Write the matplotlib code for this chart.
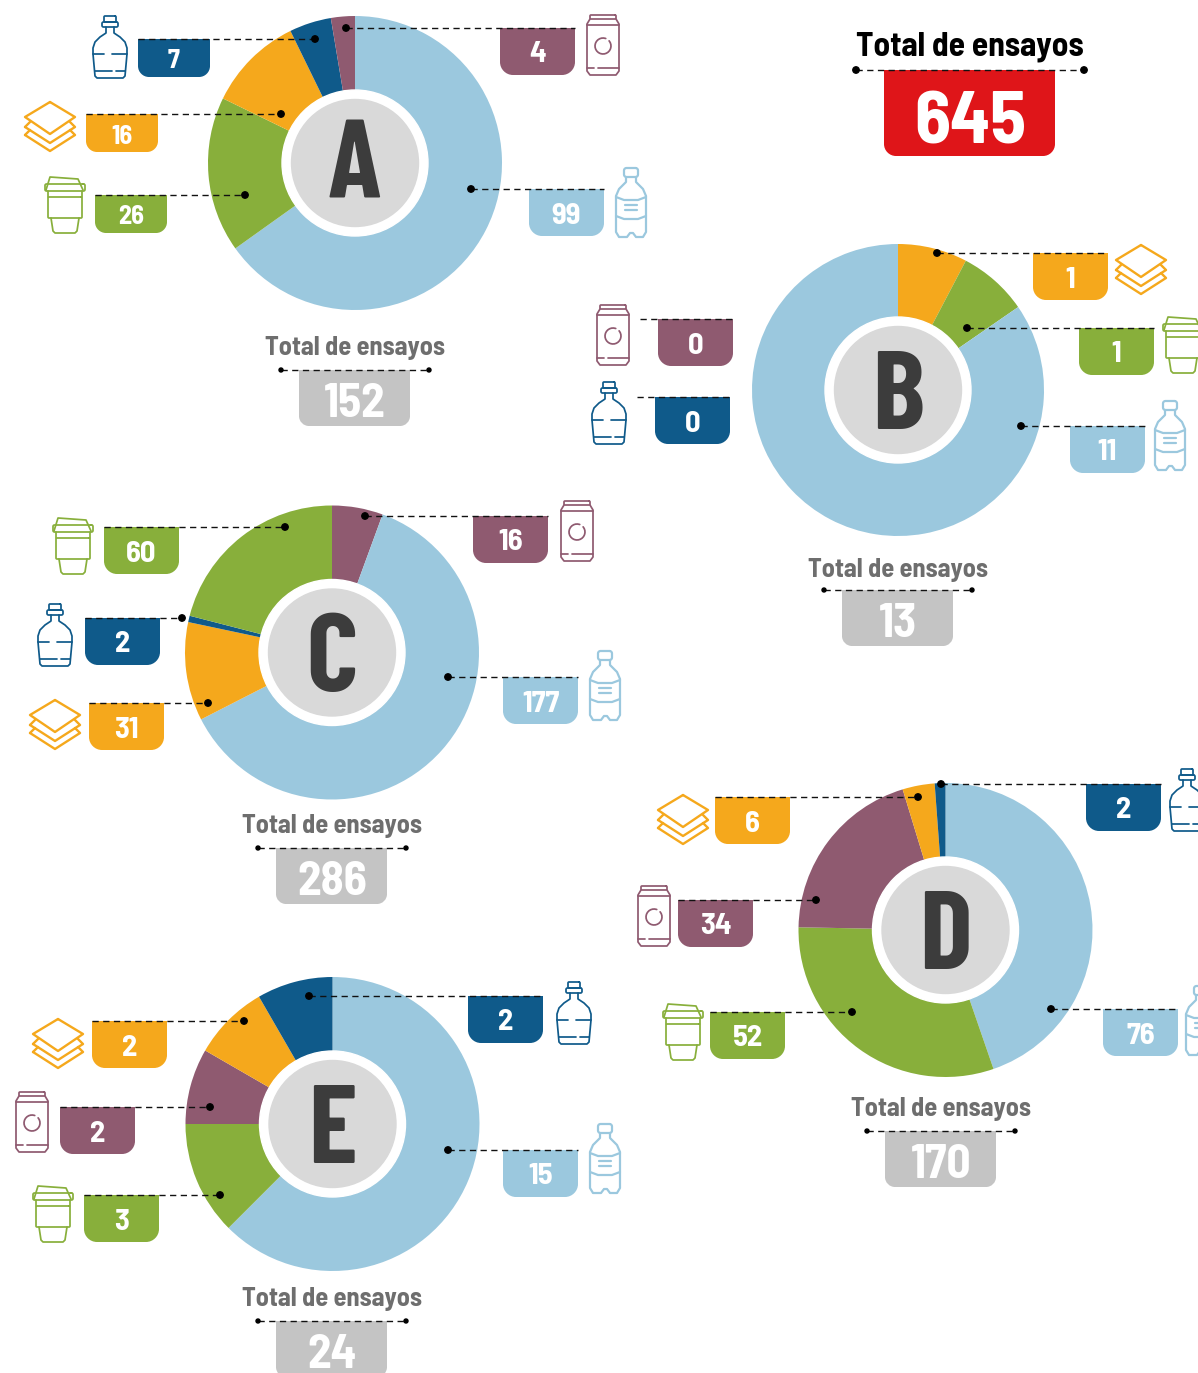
import math
import matplotlib
matplotlib.use('Agg')
import matplotlib.pyplot as plt
from matplotlib.patches import Circle, PathPatch
from matplotlib.path import Path

W, H = 1198, 1373

BLUE = '#9bc8de'
GREEN = '#88af3b'
ORANGE = '#f5a81c'
NAVY = '#0f5a8a'
PURPLE = '#8f5a70'
COLORS = {'bottle': BLUE, 'cup': GREEN, 'layers': ORANGE, 'jug': NAVY, 'can': PURPLE}

TITLE = 'Total de ensayos'
GRAND_TOTAL = 645

# values, clockwise from the top of each donut
kinds_a = ['bottle', 'cup', 'layers', 'jug', 'can']
values_a = [99, 26, 16, 7, 4]
kinds_b = ['layers', 'cup', 'bottle']
values_b = [1, 1, 11]
kinds_c = ['can', 'bottle', 'layers', 'jug', 'cup']
values_c = [16, 177, 31, 2, 60]
kinds_d = ['bottle', 'cup', 'can', 'layers', 'jug']
values_d = [76, 52, 34, 6, 2]
kinds_e = ['bottle', 'cup', 'can', 'layers', 'jug']
values_e = [15, 3, 2, 2, 2]
extra_b = {'can': 0, 'jug': 0}  # zero, so no slice
totals = {'A': 152, 'B': 13, 'C': 286, 'D': 170, 'E': 24}

# layout in pixels: kind -> tab x, tab y, line x0, line x1, dot x (None = no dot), icon x, icon y
layout_a = {
    'jug': (138, 39, 138, 315, 315, 92, 16),
    'layers': (86, 114, 86, 281, 281, 25, 101),
    'cup': (95, 195, 95, 245, 245, 45, 176),
    'can': (500, 28, 346, 575, 346, 587, 15),
    'bottle': (529, 189, 471, 604, 471, 616, 168),
}
layout_b = {
    'layers': (1033, 253, 937, 1108, 937, 1116, 244),
    'cup': (1079, 328, 967, 1154, 967, 1163, 316),
    'bottle': (1070, 426, 1021, 1145, 1021, 1155, 401),
    'can': (658, 319, 640, 733, None, 597, 305),
    'jug': (655, 397, 637, 730, None, 591, 382),
}
layout_c = {
    'cup': (104, 527, 104, 285, 285, 53, 517),
    'jug': (85, 618, 85, 182, 182, 37, 604),
    'layers': (89, 703, 89, 208, 208, 30, 699),
    'can': (473, 516, 365, 548, 365, 561, 501),
    'bottle': (503, 677, 448, 578, 448, 590, 651),
}
layout_d = {
    'layers': (715, 797, 715, 918, 918, 658, 794),
    'can': (678, 900, 678, 816, 816, 638, 886),
    'cup': (710, 1012, 710, 852, 852, 663, 1003),
    'jug': (1086, 784, 941, 1161, 941, 1169, 769),
    'bottle': (1103, 1009, 1051, 1178, 1051, 1186, 986),
}
layout_e = {
    'layers': (92, 1021, 92, 244, 244, 33, 1018),
    'can': (60, 1107, 60, 210, 210, 16, 1092),
    'cup': (84, 1195, 84, 220, 220, 33, 1185),
    'jug': (468, 996, 309, 543, 309, 556, 982),
    'bottle': (503, 1150, 448, 578, 448, 590, 1124),
}

SEMI = ['Barlow Semi Condensed', 'Roboto', 'DejaVu Sans']
COND = ['Barlow Condensed', 'Roboto', 'DejaVu Sans']

fig = plt.figure(figsize=(W / 100, H / 100), dpi=100)
ax = fig.add_axes([0, 0, 1, 1])


def Y(y):
    return H - y


def dashed(x0, x1, y, z=5):
    ax.plot([x0, x1], [Y(y), Y(y)], color='#111111', lw=1.0, dashes=(4.5, 3.2), zorder=z)


def dot(x, y, r=3.2):
    ax.add_patch(Circle((x, Y(y)), r, color='black', zorder=6))


def tab(x, y, w, h, color, r=13):
    # flat top, rounded bottom corners
    k = 0.55 * r
    verts = [(x, y), (x + w, y), (x + w, y + h - r),
             (x + w, y + h - r + k), (x + w - r + k, y + h), (x + w - r, y + h),
             (x + r, y + h), (x + r - k, y + h), (x, y + h - r + k), (x, y + h - r), (x, y)]
    codes = [Path.MOVETO, Path.LINETO, Path.LINETO,
             Path.CURVE4, Path.CURVE4, Path.CURVE4,
             Path.LINETO, Path.CURVE4, Path.CURVE4, Path.CURVE4, Path.CLOSEPOLY]
    verts = [(a, Y(b)) for a, b in verts]
    ax.add_patch(PathPatch(Path(verts, codes), fc=color, ec='none', zorder=3))


def stroke(pts, ox, oy, color, lw=1.25):
    ax.plot([ox + p[0] for p in pts], [Y(oy + p[1]) for p in pts], color=color, lw=lw,
            solid_capstyle='round', solid_joinstyle='round', zorder=4)


def rounded(x0, y0, x1, y1, r, n=6):
    pts = []
    for cx, cy, a0 in [(x1 - r, y0 + r, -90), (x1 - r, y1 - r, 0), (x0 + r, y1 - r, 90), (x0 + r, y0 + r, 180)]:
        for i in range(n + 1):
            a = math.radians(a0 + 90 * i / n)
            pts.append((cx + r * math.cos(a), cy + r * math.sin(a)))
    pts.append(pts[0])
    return pts


def icon(kind, ox, oy):
    c = COLORS[kind]
    if kind == 'jug':
        stroke(rounded(12, 0, 24, 6, 1), ox, oy, c)
        stroke(rounded(10, 6, 26, 11, 1.5), ox, oy, c)
        stroke([(14, 11), (14, 17), (8, 21), (3, 26), (1, 32), (1, 38), (3, 60), (5, 62), (31, 62),
                (33, 60), (35, 38), (35, 32), (33, 26), (28, 21), (22, 17), (22, 11)], ox, oy, c)
        stroke([(1, 38), (12, 38)], ox, oy, c)
        stroke([(20, 38), (35, 38)], ox, oy, c)
        stroke([(3, 55), (20, 55)], ox, oy, c)
        stroke([(24, 55), (33, 55)], ox, oy, c)
    elif kind == 'layers':
        for dy in (17, 9):
            stroke([(0, 26 + dy - 9), (5, 21 + dy - 9)], ox, oy, c, 1.7)
            stroke([(45, 21 + dy - 9), (50, 26 + dy - 9), (25, 42 + dy - 9), (0, 26 + dy - 9)], ox, oy, c, 1.7)
        stroke([(25, 1), (50, 16), (25, 33), (0, 16), (25, 1)], ox, oy, c, 1.7)
    elif kind == 'cup':
        stroke([(1, 14), (5, 1), (33, 3), (38, 14)], ox, oy, c)
        stroke(rounded(0, 8, 40, 15, 1.5), ox, oy, c)
        stroke(rounded(3, 21, 37, 42, 1), ox, oy, c)
        stroke([(6, 42), (8, 55), (10, 57), (30, 57), (32, 55), (34, 42)], ox, oy, c)
        stroke([(3, 15), (3, 21)], ox, oy, c)
        stroke([(37, 15), (37, 21)], ox, oy, c)
    elif kind == 'can':
        stroke(rounded(3, 0, 29, 4, 1), ox, oy, c)
        stroke([(3, 4), (0, 9), (0, 56), (3, 60), (29, 60), (32, 56), (32, 9), (29, 4)], ox, oy, c)
        stroke([(0, 10), (32, 10)], ox, oy, c)
        stroke([(0, 53), (7, 53)], ox, oy, c)
        stroke([(11, 53), (32, 53)], ox, oy, c)
        circ = [(16 + 8 * math.cos(math.radians(a)), 31 + 8 * math.sin(math.radians(a))) for a in range(-40, 300, 15)]
        stroke(circ, ox, oy, c)
    elif kind == 'bottle':
        stroke(rounded(8, 0, 22, 9, 2.5), ox, oy, c, 1.6)
        stroke([(10, 9), (10, 14), (3, 21), (0, 28), (0, 64), (3, 69), (11, 69), (14, 65), (17, 65), (20, 69),
                (27, 69), (30, 64), (30, 28), (27, 21), (20, 14), (20, 9)], ox, oy, c, 1.6)
        stroke([(0, 29), (8, 32), (22, 32), (30, 29)], ox, oy, c, 1.6)
        stroke([(0, 48), (8, 51), (22, 51), (30, 48)], ox, oy, c, 1.6)
        stroke([(9, 37), (21, 37)], ox, oy, c, 1.6)
        stroke([(9, 42), (21, 42)], ox, oy, c, 1.6)


def total_block(cx, y_text, y_line, number):
    ax.text(cx, Y(y_text + 2), TITLE, ha='center', va='center', family=SEMI, fontsize=19, fontweight='bold', color='#6e6e6e', zorder=7)
    dashed(cx - 74, cx + 74, y_line)
    dot(cx - 74, y_line, 2)
    dot(cx + 74, y_line, 2)
    tab(cx - 56, y_line, 111, 56, '#c4c4c4', 10)
    ax.text(cx, Y(y_line + 30), str(number), ha='center', va='center_baseline', family=SEMI, fontsize=34, fontweight='bold', color='white', zorder=7)


def donut(cx, cy, letter, kinds, values, layout, extra=None, short=(), letter_dy=0, radius=147):
    wedges, _ = ax.pie(values, colors=[COLORS[k] for k in kinds], startangle=90, counterclock=False,
                       center=(cx, Y(cy)), radius=radius, wedgeprops={'linewidth': 0})
    for w in wedges:
        w.set_zorder(1)
    ax.add_patch(Circle((cx, Y(cy)), 73, color='white', zorder=2))
    ax.add_patch(Circle((cx, Y(cy)), 63.5, color='#d9d9d9', zorder=2.5))
    ax.text(cx, Y(cy + letter_dy), letter, ha='center', va='center_baseline', family=COND, fontsize=80, fontweight='bold', color='#3c3c3c', zorder=3)
    shown = dict(zip(kinds, values))
    if extra:
        shown.update(extra)
    for k, val in shown.items():
        tx, ty, x0, x1, dx, ix, iy = layout[k]
        if k in short:
            tab(tx, ty, 72, 38, COLORS[k], 11)
            tw, ly, fs = 72, ty + 20, 19
        else:
            tab(tx, ty, 75, 47, COLORS[k])
            tw, ly, fs = 75, ty + 24, 22
        dashed(x0, x1, ty)
        if dx is not None:
            dot(dx, ty)
        ax.text(tx + tw / 2, Y(ly), str(val), ha='center', va='center_baseline', family=SEMI, fontsize=fs, fontweight='bold', color='white', zorder=7)
        icon(k, ix, iy)


donut(355, 163, 'A', kinds_a, values_a, layout_a, short=('jug', 'layers', 'cup'), letter_dy=-4)
donut(898, 390, 'B', kinds_b, values_b, layout_b, extra_b, radius=146)
donut(332, 652.5, 'C', kinds_c, values_c, layout_c)
donut(945.5, 930, 'D', kinds_d, values_d, layout_d)
donut(332.5, 1124, 'E', kinds_e, values_e, layout_e)

total_block(355, 346, 370, totals['A'])
total_block(898, 568, 590, totals['B'])
total_block(332, 824, 848, totals['C'])
total_block(941, 1107, 1131, totals['D'])
total_block(332, 1297, 1321, totals['E'])

# grand total, top right
ax.text(970, Y(47), TITLE, ha='center', va='center', family=SEMI, fontsize=24, fontweight='bold', color='black', zorder=7)
dashed(856, 1084, 70)
dot(856, 70)
dot(1084, 70)
tab(884, 70, 171, 86, '#df1519', 12)
ax.text(970, Y(117), str(GRAND_TOTAL), ha='center', va='center_baseline', family=SEMI, fontsize=53, fontweight='bold', color='white', zorder=7)

ax.set_xlim(0, W)
ax.set_ylim(0, H)
ax.set_aspect('auto')
ax.axis('off')
fig.savefig('out.png', dpi=100)
